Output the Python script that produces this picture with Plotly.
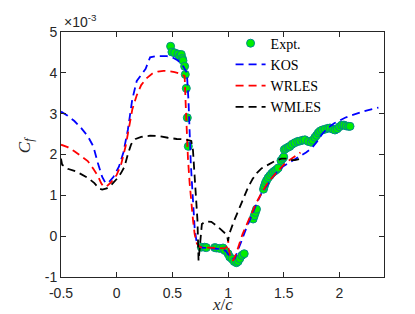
import plotly.graph_objects as go

# ---------------- data (Cf values in units of 1e-3) ----------------
expt_x = [0.484, 0.496, 0.52, 0.55, 0.565, 0.58, 0.59, 0.595, 0.61, 0.616, 0.625, 0.634, 0.643,
          0.76, 0.79, 0.805, 0.88, 0.895, 0.925, 0.955, 0.97, 1.0, 1.015, 1.036, 1.055, 1.075, 1.09,
          1.105, 1.125, 1.145,
          1.225, 1.235, 1.245, 1.255,
          1.318, 1.325, 1.335, 1.345, 1.36, 1.375, 1.39, 1.405, 1.42, 1.435, 1.45, 1.475, 1.49, 1.5,
          1.505, 1.52, 1.54, 1.555, 1.575, 1.6, 1.625, 1.645, 1.67, 1.69, 1.72, 1.745, 1.76, 1.78,
          1.795, 1.81, 1.825, 1.845, 1.87, 1.895, 1.915, 1.94, 1.96, 1.98, 2.0, 2.02, 2.04, 2.06,
          2.08, 2.095]
expt_y = [4.65, 4.51, 4.49, 4.46, 4.40, 4.45, 4.35, 4.30, 4.16, 3.96, 3.62, 2.90, 2.20,
          -0.27, -0.27, -0.28, -0.28, -0.29, -0.30, -0.29, -0.35, -0.43, -0.51, -0.56, -0.62, -0.65, -0.62,
          -0.55, -0.47, -0.43,
          0.42, 0.50, 0.58, 0.66,
          1.15, 1.22, 1.30, 1.36, 1.43, 1.48, 1.53, 1.57, 1.60, 1.63, 1.67, 1.85, 1.90, 1.94,
          2.12, 2.15, 2.18, 2.20, 2.25, 2.29, 2.32, 2.33, 2.35, 2.36, 2.32, 2.30, 2.35, 2.42,
          2.47, 2.53, 2.57, 2.60, 2.62, 2.64, 2.65, 2.62, 2.60, 2.63, 2.68, 2.72, 2.72, 2.70,
          2.69, 2.69]

kos_x = [-0.5, -0.44, -0.38, -0.32, -0.26, -0.21, -0.17, -0.13, -0.1, -0.07, -0.03, 0.02, 0.06,
         0.1, 0.14, 0.18, 0.22, 0.26, 0.3, 0.35, 0.4, 0.45, 0.5, 0.55, 0.6, 0.63, 0.645, 0.655,
         0.665, 0.68, 0.69, 0.7, 0.715, 0.74, 0.77, 0.85, 0.9, 0.95, 0.98, 1.0, 1.03, 1.06, 1.09,
         1.12, 1.15, 1.18, 1.22, 1.26, 1.3, 1.35, 1.4, 1.45, 1.5, 1.55, 1.6, 1.65, 1.7, 1.75, 1.8,
         1.85, 1.9, 1.95, 2.0, 2.05, 2.1, 2.15, 2.2, 2.25, 2.3, 2.35]
kos_y = [3.05, 2.95, 2.82, 2.65, 2.45, 2.20, 1.80, 1.45, 1.30, 1.32, 1.45, 1.70, 2.05,
         2.60, 3.35, 3.80, 3.95, 4.10, 4.38, 4.41, 4.41, 4.41, 4.38, 4.30, 4.15, 4.00, 3.30, 2.50,
         1.80, 1.10, 0.60, 0.20, -0.10, -0.25, -0.28, -0.29, -0.30, -0.32, -0.36, -0.45, -0.55, -0.55, -0.35,
         -0.12, 0.10, 0.30, 0.55, 0.82, 1.05, 1.25, 1.45, 1.60, 1.72, 1.80, 1.88, 1.95, 2.05, 2.15, 2.32,
         2.52, 2.66, 2.76, 2.84, 2.90, 2.95, 3.00, 3.04, 3.08, 3.12, 3.15]

wrles_x = [-0.5, -0.44, -0.38, -0.32, -0.26, -0.21, -0.17, -0.14, -0.12, -0.09, -0.05, 0.0, 0.04,
           0.08, 0.11, 0.14, 0.18, 0.22, 0.27, 0.32, 0.37, 0.42, 0.47, 0.52, 0.57, 0.61, 0.62, 0.63,
           0.64, 0.655, 0.67, 0.685, 0.7, 0.72, 0.75, 0.8, 0.9, 0.97, 0.995, 1.0, 1.005, 1.02, 1.045,
           1.07, 1.1, 1.13, 1.17, 1.21, 1.25, 1.3, 1.35, 1.4, 1.45, 1.5, 1.55, 1.6, 1.65]
wrles_y = [2.24, 2.18, 2.08, 1.97, 1.84, 1.65, 1.48, 1.30, 1.22, 1.22, 1.32, 1.50, 1.76,
           2.20, 2.70, 3.10, 3.45, 3.70, 3.87, 3.98, 4.03, 4.05, 4.04, 4.02, 3.98, 3.92, 3.20, 2.50,
           1.90, 1.30, 0.80, 0.40, 0.05, -0.18, -0.27, -0.28, -0.29, -0.30, -0.25, -0.05, -0.30, -0.50, -0.60,
           -0.45, -0.20, 0.05, 0.30, 0.55, 0.80, 1.05, 1.28, 1.45, 1.60, 1.75, 1.86, 1.96, 2.05]

wmles_x = [-0.5, -0.49, -0.44, -0.38, -0.32, -0.26, -0.2, -0.16, -0.13, -0.09, -0.05, 0.0, 0.04,
           0.07, 0.1, 0.13, 0.17, 0.22, 0.3, 0.38, 0.46, 0.54, 0.62, 0.67, 0.685, 0.7, 0.715, 0.725,
           0.73, 0.735, 0.745, 0.755, 0.765, 0.8, 0.85, 0.9, 0.95, 0.99, 1.0, 1.01, 1.05, 1.09, 1.14,
           1.18, 1.22, 1.26, 1.3, 1.36, 1.42, 1.48, 1.52, 1.56, 1.6, 1.66]
wmles_y = [1.90, 1.75, 1.65, 1.60, 1.52, 1.43, 1.30, 1.17, 1.14, 1.17, 1.25, 1.40, 1.55,
           1.70, 2.00, 2.25, 2.38, 2.43, 2.46, 2.45, 2.41, 2.38, 2.37, 2.33, 2.10, 1.45, 0.90, 0.40,
           -0.10, -0.60, -0.30, 0.10, 0.30, 0.36, 0.35, 0.25, 0.14, 0.03, -0.12, 0.05, 0.35, 0.62, 0.95,
           1.20, 1.40, 1.55, 1.66, 1.76, 1.84, 1.90, 1.90, 1.86, 1.86, 1.90]

x_ticks = [-0.5, 0, 0.5, 1, 1.5, 2]
x_tick_labels = ["-0.5", "0", "0.5", "1", "1.5", "2"]
y_ticks = [-1, 0, 1, 2, 3, 4, 5]
y_tick_labels = ["-1", "0", "1", "2", "3", "4", "5"]

# ---------------- figure ----------------
axis_col = "#262626"
tick_font = dict(family="Liberation Sans, Arial, sans-serif", size=14, color=axis_col)
serif = "Liberation Serif, Times New Roman, serif"
dash = "8px,5px"
lw = 1.8

fig = go.Figure()
fig.add_trace(go.Scatter(x=expt_x, y=expt_y, mode="markers", name="Expt.",
                         marker=dict(size=8, color="#00ee00",
                                     line=dict(color="rgb(0,140,140)", width=1))))
fig.add_trace(go.Scatter(x=kos_x, y=kos_y, mode="lines", name="KOS",
                         line=dict(color="#0000ff", width=lw, dash=dash)))
fig.add_trace(go.Scatter(x=wrles_x, y=wrles_y, mode="lines", name="WRLES",
                         line=dict(color="#ff0000", width=lw, dash=dash)))
fig.add_trace(go.Scatter(x=wmles_x, y=wmles_y, mode="lines", name="WMLES",
                         line=dict(color="#000000", width=lw, dash=dash)))

axis_common = dict(showline=True, linecolor=axis_col, linewidth=1, mirror="ticks",
                   ticks="inside", ticklen=5, tickcolor=axis_col, tickwidth=1,
                   showgrid=False, zeroline=False, tickfont=tick_font, automargin=False)
fig.update_xaxes(range=[-0.5, 2.4], tickvals=x_ticks, ticktext=x_tick_labels,
                 ticklabelstandoff=3, **axis_common)
fig.update_yaxes(range=[-1, 5], tickvals=y_ticks, ticktext=y_tick_labels, **axis_common)

fig.update_layout(
    template="none",
    width=415, height=314,
    margin=dict(l=53, r=39, t=24, b=45, autoexpand=False),
    paper_bgcolor="white", plot_bgcolor="white",
    showlegend=True,
    legend=dict(x=0.525, y=1.018, xanchor="left", yanchor="top",
                bgcolor="rgba(0,0,0,0)", borderwidth=0,
                font=dict(family=serif, size=14, color="#000000"),
                itemwidth=30),
    annotations=[
        dict(text="×10<sup>-3</sup>", xref="paper", yref="paper", x=0, y=1,
             xanchor="left", yanchor="bottom", yshift=0, xshift=1, showarrow=False,
             font=tick_font),
        dict(text="<i>x</i>/<i>c</i>", xref="paper", yref="paper", x=0.5, y=-0.112,
             xanchor="center", yanchor="middle", showarrow=False,
             font=dict(family=serif, size=17, color=axis_col)),
        dict(text="<i>C<sub>f</sub></i>", xref="paper", yref="paper", x=-0.11, y=0.54,
             xanchor="center", yanchor="middle", showarrow=False, textangle=-90,
             font=dict(family=serif, size=17, color=axis_col)),
    ],
)

fig.write_html("out.html")
